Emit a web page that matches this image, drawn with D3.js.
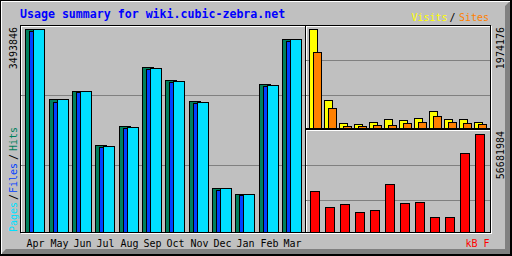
<!DOCTYPE html>
<html>
<head>
<meta charset="utf-8">
<script src="https://cdn.jsdelivr.net/npm/d3@7"></script>
<style>
body { margin: 0; background: #fff; }
svg { display: block; }
text { font-family: "DejaVu Sans Mono", monospace; }
</style>
</head>
<body>
<div id="chart"></div>
<script>
var months = ["Apr", "May", "Jun", "Jul", "Aug", "Sep", "Oct", "Nov", "Dec", "Jan", "Feb", "Mar"];

var hits   = [3493846, 2289000, 2426700, 1497400, 1824400, 2839800, 2616100, 2254700, 757300, 654000, 2547300, 3321700];
var files  = [3459400, 2243000, 2409600, 1463000, 1790000, 2805400, 2581700, 2220300, 722900, 636800, 2512800, 3287300];
var pages  = [3489000, 2281000, 2419000, 1481000, 1807000, 2822000, 2599000, 2238000, 751000, 648000, 2530000, 3316000];

var visits = [1974176, 558400, 99700, 79800, 119600, 179500, 159500, 199400, 339000, 179500, 179500, 119600];
var sites  = [1515500, 398800, 39900, 39900, 59800, 59800, 99700, 119600, 239300, 119600, 99700, 79800];

var kbytes = [23714000, 14460000, 16195000, 11568000, 12725000, 27763000, 16773000, 17352000, 8676000, 8676000, 45692000, 56681984];

var title = "Usage summary for wiki.cubic-zebra.net";

var grey = "#c0c0c0", dkgrey = "#808080";

var svg = d3.select("#chart").append("svg")
    .attr("width", 512)
    .attr("height", 256);

// background + bevel
svg.append("rect").attr("width", 512).attr("height", 256).attr("fill", grey);
svg.append("path")
    .attr("d", "M1,254L6,249L505,249L505,6L510,1L510,254Z")
    .attr("fill", dkgrey);
svg.append("path")
    .attr("d", "M1,1.5H510M1.5,1V254")
    .attr("stroke", "#fff").attr("fill", "none");
svg.append("rect")
    .attr("x", 0.5).attr("y", 0.5).attr("width", 511).attr("height", 255)
    .attr("fill", "none").attr("stroke", "#000");
svg.append("path")
    .attr("d", "M0,254.5H512M510.5,0V256")
    .attr("stroke", "#000");

// boxes: white offset frame then black frame
function box(x1, y1, x2, y2) {
    svg.append("rect")
        .attr("x", x1 + 1.5).attr("y", y1 + 1.5)
        .attr("width", x2 - x1).attr("height", y2 - y1)
        .attr("fill", "none").attr("stroke", "#fff");
    svg.append("rect")
        .attr("x", x1 + 0.5).attr("y", y1 + 0.5)
        .attr("width", x2 - x1).attr("height", y2 - y1)
        .attr("fill", "none").attr("stroke", "#000");
}
box(20, 25, 305, 232);
box(305, 25, 490, 128);
box(305, 129, 490, 232);

// grid lines
function grid(x1, x2, ys) {
    svg.append("g").selectAll("line")
        .data(ys)
        .enter().append("line")
        .attr("x1", x1).attr("x2", x2)
        .attr("y1", function(d) { return d + 0.5; })
        .attr("y2", function(d) { return d + 0.5; })
        .attr("stroke", dkgrey);
}
grid(21, 305, [95, 165]);
grid(306, 490, [60, 95]);
grid(306, 490, [165, 200]);

// scales
var xL = d3.scaleBand().domain(months).range([25, 305]);
var xR = d3.scaleBand().domain(months).range([309, 489]);

var yL = d3.scaleLinear().domain([0, d3.max(hits)]).range([232, 29]);
var yV = d3.scaleLinear().domain([0, d3.max(visits)]).range([128, 29]);
var yK = d3.scaleLinear().domain([0, d3.max(kbytes)]).range([232, 134]);

function bars(data, xs, dx, w, y, color) {
    var base = y.range()[0];
    svg.append("g").selectAll("rect")
        .data(data)
        .enter().append("rect")
        .attr("x", function(d, i) { return Math.ceil(xs(months[i]) - 0.01) + dx + 0.5; })
        .attr("y", function(d) { return Math.round(y(d)) + 0.5; })
        .attr("width", w)
        .attr("height", function(d) { return base - Math.round(y(d)); })
        .attr("fill", color)
        .attr("stroke", "#000");
}

bars(hits, xL, 0, 11, yL, "#00805c");
bars(files, xL, 4, 11, yL, "#0040ff");
bars(pages, xL, 8, 11, yL, "#00e0ff");

bars(visits, xR, 0, 8, yV, "#ffff00");
bars(sites, xR, 4, 8, yV, "#ff8000");

bars(kbytes, xR, 1, 9, yK, "#ff0000");

// month labels
svg.append("g").selectAll("text")
    .data(months)
    .enter().append("text")
    .attr("x", function(d) { return Math.ceil(xL(d) - 0.01) + 1.5; })
    .attr("y", 247)
    .attr("font-size", "10px")
    .attr("fill", "#000")
    .text(function(d) { return d; });

// title
svg.append("text")
    .attr("x", 20).attr("y", 18)
    .attr("font-size", "11.6px")
    .attr("font-weight", "bold")
    .attr("fill", "#0000ff")
    .text(title);

// legends top right
function label(x, y, s, color) {
    svg.append("text")
        .attr("x", x).attr("y", y)
        .attr("font-size", "10px")
        .attr("fill", color)
        .text(s);
}
label(411.5, 21, "Visits", "#ffff00");
label(449.5, 21, "/", "#000");
label(459, 21, "Sites", "#ff8000");
label(465.5, 247, "kB F", "#ff0000");

// vertical labels
function up(x, y, s, color, anchor) {
    svg.append("text")
        .attr("transform", "translate(" + x + "," + y + ")rotate(-90)")
        .attr("text-anchor", anchor)
        .attr("font-size", "10px")
        .attr("fill", color)
        .text(s);
}
up(16.5, 27, d3.max(hits), "#000", "end");
up(504, 27, d3.max(visits), "#000", "end");
up(504, 131, d3.max(kbytes), "#000", "end");

up(16.5, 232, "Pages", "#00e0ff", "start");
up(16.5, 200, "/", "#000", "start");
up(16.5, 193, "Files", "#0040ff", "start");
up(16.5, 160, "/", "#000", "start");
up(16.5, 151, "Hits", "#00805c", "start");
</script>
</body>
</html>
